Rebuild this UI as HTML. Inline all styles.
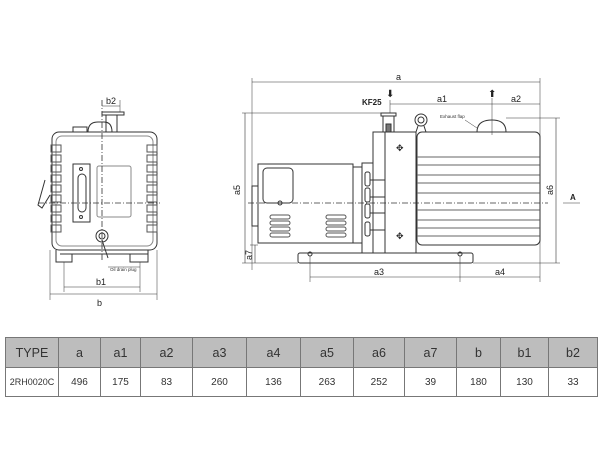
<!DOCTYPE html>
<html><head><meta charset="utf-8"><style>
html,body{margin:0;padding:0;background:#fff;width:600px;height:450px;overflow:hidden;font-family:"Liberation Sans",Arial,sans-serif}
svg{position:absolute;left:0;top:0}
table{position:absolute;left:5px;top:337px;width:592px;border-collapse:collapse;table-layout:fixed}
td{border:1px solid #777;text-align:center;font-size:11px;color:#333;padding:0}
tr.h td{background:#bdbdbd;height:29px;font-size:12.5px}
tr.d td{height:28px;font-size:10px}
</style></head><body>
<svg width="600" height="335" viewBox="0 0 600 335" fill="none" stroke="#333" stroke-width="1" font-family="Liberation Sans, Arial, sans-serif">
<!-- FRONT VIEW -->
<g>
<rect x="52" y="132" width="105" height="118" rx="7"/>
<rect x="56" y="136" width="97" height="110" rx="6" stroke="#888"/>
<rect x="73" y="127" width="14" height="5"/>
<path d="M88 132 Q88 122 98 122 L104 122 Q112 122 112 132"/>
<rect x="102" y="112" width="22" height="3"/>
<line x1="106" y1="115" x2="106" y2="132"/><line x1="117" y1="115" x2="117" y2="132"/>
<g stroke="#555">
<rect x="51" y="145" width="10" height="7"/><rect x="51" y="155" width="10" height="7"/><rect x="51" y="165" width="10" height="7"/><rect x="51" y="175" width="10" height="7"/><rect x="51" y="185" width="10" height="7"/><rect x="51" y="195" width="10" height="7"/><rect x="51" y="205" width="10" height="7"/><rect x="51" y="215" width="10" height="7"/><rect x="51" y="225" width="10" height="7"/>
<rect x="147" y="145" width="10" height="7"/><rect x="147" y="155" width="10" height="7"/><rect x="147" y="165" width="10" height="7"/><rect x="147" y="175" width="10" height="7"/><rect x="147" y="185" width="10" height="7"/><rect x="147" y="195" width="10" height="7"/><rect x="147" y="205" width="10" height="7"/><rect x="147" y="215" width="10" height="7"/><rect x="147" y="225" width="10" height="7"/>
</g>
<path d="M45 180 L38 205 L42 208 L50 195"/>
<rect x="73" y="164" width="17" height="58"/>
<rect x="78" y="174" width="8" height="38" rx="4"/>
<circle cx="81" cy="169" r="1.5"/><circle cx="81" cy="217" r="1.5"/>
<rect x="97" y="166" width="34" height="51" rx="2" stroke="#888"/>
<circle cx="102" cy="236" r="6"/><circle cx="102" cy="236" r="3"/>
<path d="M56 250 L56 262 L72 262 L72 254 L130 254 L130 262 L148 262 L148 250"/>
<line x1="60" y1="254" x2="148" y2="254"/>
<line x1="102" y1="240" x2="108" y2="258"/>
<text x="110" y="271" font-size="4.5" fill="#333" stroke="none">Oil drain plug</text>
<line x1="108" y1="267" x2="140" y2="267" stroke-width="0.5"/>
<line x1="102" y1="100" x2="102" y2="262" stroke-dasharray="6,2,1,2" stroke-width="0.8"/>
<line x1="38" y1="203" x2="160" y2="203" stroke-dasharray="6,2,1,2" stroke-width="0.8"/>
<line x1="50" y1="250" x2="50" y2="300" stroke-width="0.5"/><line x1="157" y1="250" x2="157" y2="300" stroke-width="0.5"/>
<line x1="50" y1="294" x2="157" y2="294" stroke-width="0.6"/>
<line x1="64" y1="262" x2="64" y2="292" stroke-width="0.5"/><line x1="140" y1="262" x2="140" y2="292" stroke-width="0.5"/>
<line x1="64" y1="287" x2="140" y2="287" stroke-width="0.6"/>
<line x1="120" y1="100" x2="120" y2="112" stroke-width="0.5"/>
<line x1="102" y1="106" x2="120" y2="106" stroke-width="0.6"/>
<g fill="#222" stroke="none" font-size="9">
<text x="97" y="306">b</text><text x="96" y="285">b1</text><text x="106" y="104">b2</text>
</g>
</g>
<!-- SIDE VIEW -->
<g>
<rect x="417" y="132" width="123" height="113" rx="5"/>
<g stroke="#666">
<line x1="417" y1="157" x2="540" y2="157"/><line x1="417" y1="165" x2="540" y2="165"/>
<line x1="417" y1="175" x2="540" y2="175"/><line x1="417" y1="183" x2="540" y2="183"/>
<line x1="417" y1="193" x2="540" y2="193"/><line x1="417" y1="210" x2="540" y2="210"/>
<line x1="417" y1="220" x2="540" y2="220"/><line x1="417" y1="228" x2="540" y2="228"/>
<line x1="417" y1="236" x2="540" y2="236"/>
</g>
<rect x="385" y="132" width="31" height="121"/>
<rect x="373" y="132" width="12" height="121"/>
<rect x="362" y="163" width="11" height="90"/>
<rect x="365" y="172" width="5" height="14" rx="2"/><rect x="365" y="188" width="5" height="14" rx="2"/><rect x="365" y="204" width="5" height="14" rx="2"/><rect x="365" y="222" width="5" height="14" rx="2"/>
<line x1="370" y1="180" x2="385" y2="180"/><line x1="370" y1="197" x2="385" y2="197"/><line x1="370" y1="213" x2="385" y2="213"/><line x1="370" y1="230" x2="385" y2="230"/>
<text x="396" y="151" font-size="9" fill="#222" stroke="none">✥</text><text x="396" y="239" font-size="9" fill="#222" stroke="none">✥</text>
<rect x="258" y="164" width="95" height="79"/>
<rect x="252" y="186" width="6" height="40"/>
<rect x="263" y="168" width="30" height="35" rx="4"/>
<circle cx="280" cy="203" r="2"/>
<g stroke="#555">
<rect x="270" y="215" width="20" height="4" rx="2"/><rect x="270" y="221" width="20" height="4" rx="2"/><rect x="270" y="227" width="20" height="4" rx="2"/><rect x="270" y="233" width="20" height="4" rx="2"/>
<rect x="326" y="215" width="20" height="4" rx="2"/><rect x="326" y="221" width="20" height="4" rx="2"/><rect x="326" y="227" width="20" height="4" rx="2"/><rect x="326" y="233" width="20" height="4" rx="2"/>
</g>
<rect x="353" y="167" width="9" height="76"/>
<rect x="298" y="253" width="175" height="10" rx="2"/>
<circle cx="310" cy="254" r="2"/><circle cx="460" cy="254" r="2"/>
<rect x="381" y="113" width="15" height="3"/>
<rect x="383" y="116" width="11" height="16"/>
<rect x="386" y="124" width="5" height="8" fill="#777"/>
<circle cx="421" cy="120" r="6"/><circle cx="421" cy="120" r="3"/>
<path d="M418 126 L416 132 M424 126 L426 132"/>
<path d="M477 132 Q477 120 492 120 Q506 120 506 132"/>
<text x="440" y="118" font-size="4.5" fill="#333" stroke="none">Exhaust flap</text>
<line x1="465" y1="120" x2="477" y2="128" stroke-width="0.5"/>
<line x1="248" y1="203" x2="548" y2="203" stroke-dasharray="6,2,1,2" stroke-width="0.8"/>
<line x1="252" y1="78" x2="252" y2="270" stroke-width="0.5"/><line x1="540" y1="78" x2="540" y2="282" stroke-width="0.5"/>
<line x1="252" y1="82" x2="540" y2="82" stroke-width="0.6"/>
<line x1="390" y1="104" x2="540" y2="104" stroke-width="0.6"/>
<line x1="492" y1="98" x2="492" y2="135" stroke-width="0.5"/>
<line x1="390" y1="100" x2="390" y2="113" stroke-width="0.5"/>
<line x1="242" y1="113" x2="381" y2="113" stroke-width="0.5"/>
<line x1="245" y1="113" x2="245" y2="263" stroke-width="0.6"/>
<line x1="242" y1="263" x2="298" y2="263" stroke-width="0.5"/>
<line x1="250" y1="245" x2="258" y2="245" stroke-width="0.5"/>
<line x1="255" y1="245" x2="255" y2="263" stroke-width="0.6"/>
<line x1="506" y1="118" x2="560" y2="118" stroke-width="0.5"/>
<line x1="556" y1="118" x2="556" y2="263" stroke-width="0.6"/>
<line x1="473" y1="263" x2="560" y2="263" stroke-width="0.5"/>
<line x1="310" y1="256" x2="310" y2="282" stroke-width="0.5"/><line x1="460" y1="256" x2="460" y2="282" stroke-width="0.5"/>
<line x1="310" y1="277" x2="540" y2="277" stroke-width="0.6"/>
<line x1="563" y1="203" x2="580" y2="203" stroke-width="0.6"/>
<g fill="#222" stroke="none" font-size="9">
<text x="396" y="80">a</text><text x="437" y="102">a1</text><text x="511" y="102">a2</text>
<text x="374" y="275">a3</text><text x="495" y="275">a4</text>
<text x="570" y="200" font-weight="bold" font-size="8">A</text>
<text transform="translate(240,195) rotate(-90)">a5</text>
<text transform="translate(553,195) rotate(-90)">a6</text>
<text transform="translate(252,260) rotate(-90)">a7</text>
<text x="362" y="105" font-weight="bold" font-size="8">KF25</text>
<text x="386" y="97" font-size="10">⬇</text><text x="488" y="97" font-size="10">⬆</text>
</g>
</g>
</svg>
<table>
<colgroup><col style="width:53px"><col style="width:42px"><col style="width:40px"><col style="width:52px"><col style="width:54px"><col style="width:54px"><col style="width:53px"><col style="width:51px"><col style="width:52px"><col style="width:44px"><col style="width:48px"><col style="width:49px"></colgroup>
<tr class="h"><td>TYPE</td><td>a</td><td>a1</td><td>a2</td><td>a3</td><td>a4</td><td>a5</td><td>a6</td><td>a7</td><td>b</td><td>b1</td><td>b2</td></tr>
<tr class="d"><td style="font-size:9px">2RH0020C</td><td>496</td><td>175</td><td>83</td><td>260</td><td>136</td><td>263</td><td>252</td><td>39</td><td>180</td><td>130</td><td>33</td></tr>
</table>
</body></html>
